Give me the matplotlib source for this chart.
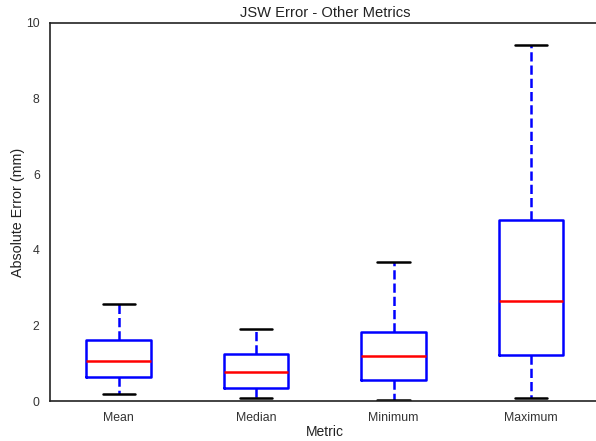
import matplotlib
matplotlib.use("Agg")
import matplotlib.pyplot as plt
import seaborn as sns

# summary stats for each metric (mm)
metrics = ["Mean", "Median", "Minimum", "Maximum"]
whisker_low = [0.185, 0.08, 0.03, 0.08]
q1 = [0.63, 0.34, 0.56, 1.22]
medians = [1.06, 0.77, 1.19, 2.65]
q3 = [1.61, 1.24, 1.83, 4.79]
whisker_high = [2.57, 1.90, 3.68, 9.42]

sns.set_style("white")
plt.rcParams["font.family"] = ["Liberation Sans", "DejaVu Sans"]

stats = []
for i, name in enumerate(metrics):
    stats.append({
        "label": name,
        "whislo": whisker_low[i],
        "q1": q1[i],
        "med": medians[i],
        "q3": q3[i],
        "whishi": whisker_high[i],
        "fliers": [],
    })

fig, ax = plt.subplots(figsize=(5.96, 4.41), dpi=100)
fig.subplots_adjust(left=0.084, right=1.006, top=0.948, bottom=0.09)

ax.bxp(stats, widths=0.47, showfliers=False,
       boxprops=dict(color="blue", linewidth=1.8),
       medianprops=dict(color="red", linewidth=1.8),
       whiskerprops=dict(color="blue", linewidth=1.8, linestyle="--"),
       capprops=dict(color="black", linewidth=1.8),
       capwidths=0.235)

ax.set_ylim(0, 10)
ax.set_xlim(0.5, 4.5)
ax.set_yticks([0, 2, 4, 6, 8, 10])
ax.tick_params(labelsize=8.8, colors="#333333", pad=4)
ax.set_title("JSW Error - Other Metrics", fontsize=10.6, color="#222222", pad=4)
ax.set_xlabel("Metric", fontsize=10, color="#222222", labelpad=1)
ax.set_ylabel("Absolute Error (mm)", fontsize=10.3, color="#222222", labelpad=1)
for s in ax.spines.values():
    s.set_color("#222222")
    s.set_linewidth(1.2)

fig.savefig("out.png", dpi=100)
